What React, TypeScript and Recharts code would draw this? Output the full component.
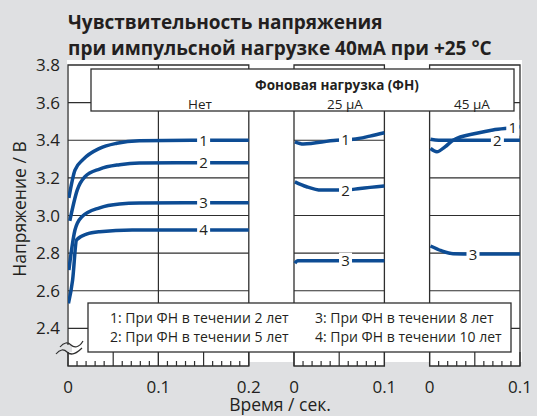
import React from "react";
import {
  LineChart,
  Line,
  XAxis,
  YAxis,
  ReferenceArea,
  ReferenceLine,
} from "recharts";

const FONT = "'Open Sans', 'Noto Sans', sans-serif";
const INK = "#231f20";
const GRID = "#2e2e2e";
const BLUE = "#0d4c94";
const BG = "#dfe0e2";

// панели на общей оси времени: начало, длина, подписи
const panelStarts = [0, 0.25, 0.4];
const panelSpans = [0.2, 0.1, 0.1];
const panelTickLabels = [["0", "0.1", "0.2"], ["0", "0.1"], ["0", "0.1"]];
const gridVolts = [2.4, 2.6, 2.8, 3.0, 3.2, 3.4, 3.6];
const yTicks = [2.4, 2.6, 2.8, 3.0, 3.2, 3.4, 3.6, 3.8];

// [время, В] — без фоновой нагрузки
const none1 = [[0.001, 3.094], [0.0077, 3.241], [0.0168, 3.298], [0.035, 3.357], [0.054, 3.384], [0.079, 3.397], [0.15, 3.4], [0.2, 3.4]];
const none2 = [[0.002, 2.972], [0.0102, 3.135], [0.0187, 3.206], [0.035, 3.247], [0.057, 3.27], [0.079, 3.279], [0.15, 3.28], [0.2, 3.28]];
const none3 = [[0.001, 2.71], [0.0077, 2.923], [0.015, 2.992], [0.035, 3.041], [0.057, 3.061], [0.079, 3.066], [0.15, 3.068], [0.2, 3.068]];
const none4 = [[0.0005, 2.533], [0.0051, 2.657], [0.0095, 2.87], [0.0205, 2.901], [0.035, 2.914], [0.071, 2.923], [0.15, 2.923], [0.2, 2.923]];

// 25 мкА
const ua25_1 = [[0.001, 3.392], [0.0103, 3.38], [0.047, 3.4], [0.057, 3.402], [0.0656, 3.405], [0.084, 3.422], [0.1, 3.44]];
const ua25_2 = [[0.001, 3.179], [0.014, 3.153], [0.03, 3.135], [0.057, 3.135], [0.073, 3.144], [0.1, 3.157]];
const ua25_3 = [[0.001, 2.746], [0.004, 2.76], [0.057, 2.76], [0.1, 2.76]];

// 45 мкА
const ua45_1 = [[0.001, 3.357], [0.008, 3.339], [0.017, 3.365], [0.026, 3.4], [0.052, 3.437], [0.07, 3.455], [0.092, 3.467], [0.1, 3.472]];
const ua45_2 = [[0.001, 3.405], [0.01, 3.4], [0.075, 3.4], [0.1, 3.4]];
const ua45_3 = [[0.001, 2.838], [0.013, 2.813], [0.026, 2.797], [0.048, 2.795], [0.1, 2.795]];

const series = [
  { id: "n1", panel: 0, pts: none1, tag: "1", tagT: 0.15 },
  { id: "n2", panel: 0, pts: none2, tag: "2", tagT: 0.15 },
  { id: "n3", panel: 0, pts: none3, tag: "3", tagT: 0.15 },
  { id: "n4", panel: 0, pts: none4, tag: "4", tagT: 0.15 },
  { id: "a1", panel: 1, pts: ua25_1, tag: "1", tagT: 0.057 },
  { id: "a2", panel: 1, pts: ua25_2, tag: "2", tagT: 0.057 },
  { id: "a3", panel: 1, pts: ua25_3, tag: "3", tagT: 0.057 },
  { id: "b1", panel: 2, pts: ua45_1, tag: "1", tagT: 0.092 },
  { id: "b2", panel: 2, pts: ua45_2, tag: "2", tagT: 0.075 },
  { id: "b3", panel: 2, pts: ua45_3, tag: "3", tagT: 0.048 },
];

const legendLeft = ["1: При ФН в течении 2 лет", "2: При ФН в течении 5 лет"];
const legendRight = ["3: При ФН в течении 8 лет", "4: При ФН в течении 10 лет"];
const loadNames = ["Нет", "25 µA", "45 µA"];

// мелкие деления по 0.01, крупные по 0.05
const tickInfo = new Map<number, { len: number; label?: string }>();
panelStarts.forEach((s, p) => {
  const n = Math.round(panelSpans[p] / 0.01);
  for (let i = 0; i <= n; i++) {
    const v = +(s + i * 0.01).toFixed(3);
    tickInfo.set(v, {
      len: i % 5 === 0 ? 14 : 5,
      label: i % 10 === 0 ? panelTickLabels[p][i / 10] : undefined,
    });
  }
});
const xTicks = Array.from(tickInfo.keys());

function XTick(props: any) {
  const { x, y, payload } = props;
  const info = tickInfo.get(payload.value);
  if (!info) return <g />;
  return (
    <g>
      <line x1={x} y1={y} x2={x} y2={y - info.len} stroke={GRID} strokeWidth={1.2} />
      {info.label && (
        <text x={x} y={y + 27} textAnchor="middle" fontSize={17} fill={INK} fontFamily={FONT}>
          {info.label}
        </text>
      )}
    </g>
  );
}

const tagLabel = (data: any[]) => (props: any) => {
  const { x, y, index } = props;
  const d = data[index];
  if (!d || !d.tag) return <g />;
  return (
    <g>
      <rect x={x - 6.5} y={y - 8} width={13} height={16} fill="#fff" />
      <text x={x} y={y + 5.5} textAnchor="middle" fontSize={15} fill={INK} fontFamily={FONT}>
        {d.tag}
      </text>
    </g>
  );
};

export default function App() {
  return (
    <div style={{ position: "absolute", left: 0, top: 0, width: 537, height: 416, background: BG, overflow: "hidden" }}>
      <div style={{ position: "absolute", left: 67, top: 60, width: 455, height: 302, background: "#fff" }} />
      <LineChart width={537} height={416} margin={{ top: 65, right: 17, bottom: 20, left: 8 }}>
        <XAxis
          type="number"
          dataKey="x"
          domain={[0, 0.5]}
          ticks={xTicks}
          interval={0}
          tick={<XTick />}
          axisLine={false}
          tickLine={false}
          tickSize={0}
          tickMargin={0}
          height={30}
          allowDataOverflow
        />
        <YAxis
          type="number"
          domain={[2.2, 3.8]}
          ticks={yTicks}
          axisLine={false}
          tickLine={false}
          tickSize={0}
          tickMargin={8}
          width={60}
          tick={{ fontSize: 17, fill: INK, fontFamily: FONT }}
          tickFormatter={(v: number) => v.toFixed(1)}
          allowDataOverflow
        />
        {panelStarts.map((s, p) => (
          <ReferenceArea
            key={"pa" + p}
            x1={s}
            x2={s + panelSpans[p]}
            y1={2.2}
            y2={3.8}
            fill="#fff"
            fillOpacity={1}
            stroke={GRID}
            strokeWidth={1.3}
          />
        ))}
        {panelStarts.map((s, p) =>
          gridVolts.map((g) => (
            <ReferenceLine
              key={"g" + p + g}
              segment={[{ x: s, y: g }, { x: s + panelSpans[p], y: g }]}
              stroke={GRID}
              strokeWidth={1.2}
            />
          ))
        )}
        <ReferenceLine segment={[{ x: 0.1, y: 2.2 }, { x: 0.1, y: 3.8 }]} stroke={GRID} strokeWidth={1.2} />
        {series.map((sr) => {
          const off = panelStarts[sr.panel];
          const data = sr.pts.map(([t, v]) => ({ x: off + t, v, tag: t === sr.tagT ? sr.tag : undefined }));
          return (
            <Line
              key={sr.id}
              data={data}
              dataKey="v"
              type="monotone"
              stroke={BLUE}
              strokeWidth={3.5}
              dot={false}
              isAnimationActive={false}
              label={tagLabel(data)}
            />
          );
        })}
      </LineChart>
      <svg width={537} height={416} style={{ position: "absolute", left: 0, top: 0 }} fontFamily={FONT}>
        <text x={68} y={29} fontSize={19} fontWeight={700} fill={INK}>Чувствительность напряжения</text>
        <text x={68} y={55} fontSize={19} fontWeight={700} fill={INK}>при импульсной нагрузке 40мА при +25 °C</text>

        <rect x={91} y={69} width={423} height={42} fill="#fff" stroke={GRID} strokeWidth={1.3} />
        <text x={337} y={89.5} textAnchor="middle" fontSize={13.5} fontWeight={700} fill={INK}>Фоновая нагрузка (ФН)</text>
        <text x={200} y={108.5} textAnchor="middle" fontSize={13.5} fill={INK}>{loadNames[0]}</text>
        <text x={345} y={108.5} textAnchor="middle" fontSize={13.5} fill={INK}>{loadNames[1]}</text>
        <text x={472} y={108.5} textAnchor="middle" fontSize={13.5} fill={INK}>{loadNames[2]}</text>

        <rect x={88} y={303} width={423} height={49} fill="#fff" stroke={GRID} strokeWidth={1.3} />
        {legendLeft.map((t, i) => (
          <text key={t} x={110} y={323 + i * 18.5} fontSize={14} fill={INK}>{t}</text>
        ))}
        {legendRight.map((t, i) => (
          <text key={t} x={315} y={323 + i * 18.5} fontSize={14} fill={INK}>{t}</text>
        ))}

        <rect x={64} y={345} width={8} height={7} fill={BG} />
        <path d="M60,347 C64,342 68,342 71,345 S79,348 83,341" fill="none" stroke={GRID} strokeWidth={1.2} />
        <path d="M56,354 C60,349 64,349 67,352 S75,355 82,348" fill="none" stroke={GRID} strokeWidth={1.2} />

        <text x={19} y={209} transform="rotate(-90 19 209)" textAnchor="middle" dominantBaseline="central" fontSize={17.5} fill={INK}>
          Напряжение / В
        </text>
        <text x={280} y={411} textAnchor="middle" fontSize={17.5} fill={INK}>
          Время / сек.
        </text>
      </svg>
    </div>
  );
}
